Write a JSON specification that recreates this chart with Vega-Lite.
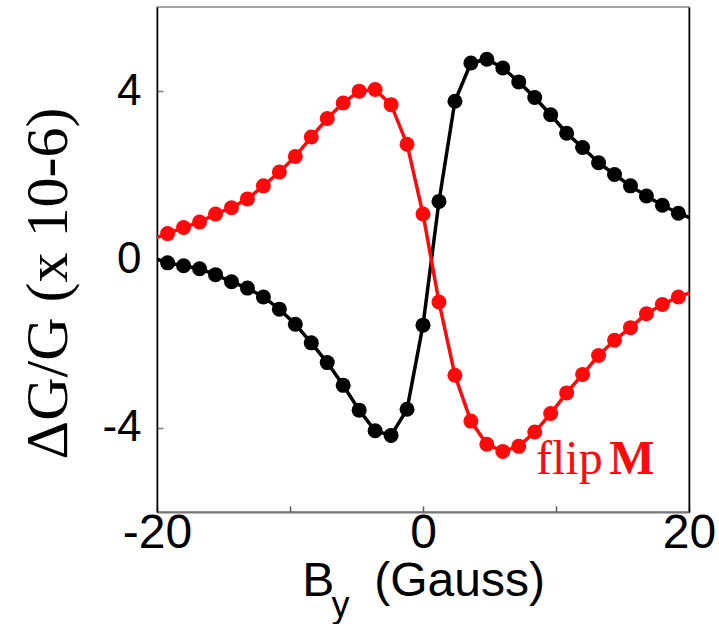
{
  "$schema": "https://vega.github.io/schema/vega-lite/v6.json",
  "autosize": "none",
  "padding": {"left": 157, "top": 7, "right": 30, "bottom": 112},
  "width": 532,
  "height": 505,
  "background": "white",
  "config": {
    "view": {"stroke": "#888", "strokeWidth": 1.5},
    "axis": {"grid": false}
  },
  "datasets": {
    "curves": [
      {"B": -20.4, "dG": 0.05, "series": "normal"},
      {"B": -19.2, "dG": -0.08, "series": "normal"},
      {"B": -18.0, "dG": -0.15, "series": "normal"},
      {"B": -16.8, "dG": -0.22, "series": "normal"},
      {"B": -15.6, "dG": -0.36, "series": "normal"},
      {"B": -14.4, "dG": -0.53, "series": "normal"},
      {"B": -13.2, "dG": -0.68, "series": "normal"},
      {"B": -12.0, "dG": -0.89, "series": "normal"},
      {"B": -10.8, "dG": -1.18, "series": "normal"},
      {"B": -9.6, "dG": -1.54, "series": "normal"},
      {"B": -8.4, "dG": -1.98, "series": "normal"},
      {"B": -7.2, "dG": -2.45, "series": "normal"},
      {"B": -6.0, "dG": -2.99, "series": "normal"},
      {"B": -4.8, "dG": -3.58, "series": "normal"},
      {"B": -3.6, "dG": -4.07, "series": "normal"},
      {"B": -2.4, "dG": -4.18, "series": "normal"},
      {"B": -1.2, "dG": -3.56, "series": "normal"},
      {"B": 0.0, "dG": -1.56, "series": "normal"},
      {"B": 1.2, "dG": 1.38, "series": "normal"},
      {"B": 2.4, "dG": 3.76, "series": "normal"},
      {"B": 3.6, "dG": 4.67, "series": "normal"},
      {"B": 4.8, "dG": 4.76, "series": "normal"},
      {"B": 6.0, "dG": 4.55, "series": "normal"},
      {"B": 7.2, "dG": 4.22, "series": "normal"},
      {"B": 8.4, "dG": 3.85, "series": "normal"},
      {"B": 9.6, "dG": 3.44, "series": "normal"},
      {"B": 10.8, "dG": 3.0, "series": "normal"},
      {"B": 12.0, "dG": 2.66, "series": "normal"},
      {"B": 13.2, "dG": 2.3, "series": "normal"},
      {"B": 14.4, "dG": 2.02, "series": "normal"},
      {"B": 15.6, "dG": 1.75, "series": "normal"},
      {"B": 16.8, "dG": 1.51, "series": "normal"},
      {"B": 18.0, "dG": 1.29, "series": "normal"},
      {"B": 19.2, "dG": 1.1, "series": "normal"},
      {"B": 20.4, "dG": 0.95, "series": "normal"},
      {"B": -20.4, "dG": 0.48, "series": "flip"},
      {"B": -19.2, "dG": 0.615, "series": "flip"},
      {"B": -18.0, "dG": 0.76, "series": "flip"},
      {"B": -16.8, "dG": 0.89, "series": "flip"},
      {"B": -15.6, "dG": 1.08, "series": "flip"},
      {"B": -14.4, "dG": 1.23, "series": "flip"},
      {"B": -13.2, "dG": 1.44, "series": "flip"},
      {"B": -12.0, "dG": 1.75, "series": "flip"},
      {"B": -10.8, "dG": 2.08, "series": "flip"},
      {"B": -9.6, "dG": 2.45, "series": "flip"},
      {"B": -8.4, "dG": 2.91, "series": "flip"},
      {"B": -7.2, "dG": 3.35, "series": "flip"},
      {"B": -6.0, "dG": 3.72, "series": "flip"},
      {"B": -4.8, "dG": 4.0, "series": "flip"},
      {"B": -3.6, "dG": 4.04, "series": "flip"},
      {"B": -2.4, "dG": 3.68, "series": "flip"},
      {"B": -1.2, "dG": 2.74, "series": "flip"},
      {"B": 0.0, "dG": 1.08, "series": "flip"},
      {"B": 1.2, "dG": -1.01, "series": "flip"},
      {"B": 2.4, "dG": -2.75, "series": "flip"},
      {"B": 3.6, "dG": -3.84, "series": "flip"},
      {"B": 4.8, "dG": -4.39, "series": "flip"},
      {"B": 6.0, "dG": -4.56, "series": "flip"},
      {"B": 7.2, "dG": -4.44, "series": "flip"},
      {"B": 8.4, "dG": -4.1, "series": "flip"},
      {"B": 9.6, "dG": -3.66, "series": "flip"},
      {"B": 10.8, "dG": -3.17, "series": "flip"},
      {"B": 12.0, "dG": -2.73, "series": "flip"},
      {"B": 13.2, "dG": -2.28, "series": "flip"},
      {"B": 14.4, "dG": -1.92, "series": "flip"},
      {"B": 15.6, "dG": -1.62, "series": "flip"},
      {"B": 16.8, "dG": -1.29, "series": "flip"},
      {"B": 18.0, "dG": -1.07, "series": "flip"},
      {"B": 19.2, "dG": -0.89, "series": "flip"},
      {"B": 20.4, "dG": -0.75, "series": "flip"}
    ],
    "one": [{"k": 1}]
  },
  "resolve": {"axis": {"y": "independent"}},
  "layer": [
    {
      "data": {"name": "curves"},
      "mark": {"type": "line", "clip": true, "strokeWidth": 3.5},
      "encoding": {
        "x": {
          "field": "B", "type": "quantitative",
          "scale": {"domain": [-20, 20], "nice": false, "zero": false},
          "axis": {
            "values": [-20, -10, 0, 10, 20],
            "labelExpr": "datum.value == 0 || abs(datum.value) == 20 ? '' + datum.value : ''",
            "labelFont": "Liberation Sans", "labelFontSize": 48, "labelColor": "black",
            "labelPadding": 3, "labelFlush": false, "labelOverlap": false,
            "tickSize": -6, "tickColor": "#555", "tickWidth": 1.5,
            "domainColor": "#777", "domainWidth": 2,
            "title": "B\u00a0\u00a0\u00a0(Gauss)",
            "titleFont": "Liberation Sans", "titleFontSize": 48, "titleFontWeight": "normal",
            "titleColor": "black", "titlePadding": 0
          }
        },
        "y": {
          "field": "dG", "type": "quantitative",
          "scale": {"domain": [-6, 6], "nice": false},
          "axis": {
            "values": [-4, 0, 4],
            "labelExpr": "'' + datum.value",
            "labelFont": "Liberation Sans", "labelFontSize": 44, "labelColor": "black",
            "labelPadding": 22,
            "tickSize": -6, "tickColor": "#777", "tickWidth": 1.5,
            "domainColor": "black", "domainWidth": 1.5,
            "title": "ΔG/G (x 10-6)",
            "titleFont": "Liberation Serif", "titleFontSize": 60, "titleFontWeight": "normal",
            "titleColor": "black",
            "titleAngle": -90, "titleAlign": "center", "titleBaseline": "middle",
            "titleX": -109, "titleY": 276
          }
        },
        "color": {
          "field": "series", "type": "nominal",
          "scale": {"domain": ["normal", "flip"], "range": ["black", "#ff0a0a"]},
          "legend": null
        },
        "order": {"field": "B", "type": "quantitative"}
      }
    },
    {
      "data": {"name": "curves"},
      "transform": [{"filter": "datum.B >= -20 && datum.B <= 20"}],
      "mark": {"type": "circle", "size": 225, "opacity": 1},
      "encoding": {
        "x": {"field": "B", "type": "quantitative"},
        "y": {
          "field": "dG", "type": "quantitative",
          "axis": {
            "orient": "right", "labels": false, "ticks": false, "title": null,
            "domainColor": "black", "domainWidth": 1.5
          }
        },
        "color": {"field": "series", "type": "nominal", "legend": null}
      }
    },
    {
      "data": {"name": "one"},
      "mark": {"type": "text", "font": "Liberation Serif", "fontSize": 48, "fontWeight": "normal", "color": "#ff0a0a", "align": "left", "baseline": "alphabetic"},
      "encoding": {
        "x": {"datum": 8.5, "type": "quantitative"},
        "y": {"datum": -5.1, "type": "quantitative", "axis": null},
        "text": {"value": "flip"}
      }
    },
    {
      "data": {"name": "one"},
      "mark": {"type": "text", "font": "Liberation Serif", "fontSize": 48, "fontWeight": "bold", "color": "#ff0a0a", "align": "left", "baseline": "alphabetic"},
      "encoding": {
        "x": {"datum": 14.0, "type": "quantitative"},
        "y": {"datum": -5.1, "type": "quantitative", "axis": null},
        "text": {"value": "M"}
      }
    },
    {
      "data": {"name": "one"},
      "mark": {"type": "text", "font": "Liberation Sans", "fontSize": 36, "fontWeight": "normal", "color": "black", "align": "center", "baseline": "alphabetic"},
      "encoding": {
        "x": {"datum": -6.2, "type": "quantitative"},
        "y": {"datum": -8.5, "type": "quantitative", "axis": null},
        "text": {"value": "y"}
      }
    }
  ]
}
